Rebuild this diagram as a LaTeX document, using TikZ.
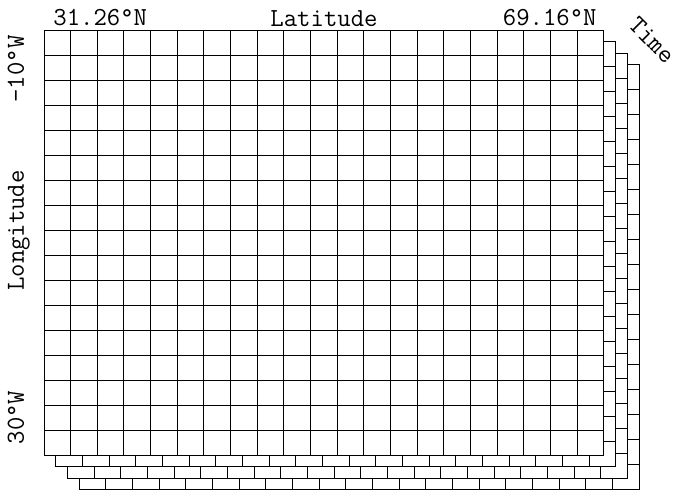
\documentclass[tikz,border=0pt]{standalone}
\usepackage{fontspec}
\tikzset{
  sheet/.style={fill=white, draw=black, line width=0.5pt},
  axislabel/.style={font=\ttfamily\fontsize{13}{15}\selectfont, inner sep=0pt},
}
\begin{document}
\begin{tikzpicture}[x=0.5pt,y=0.5pt]
  \useasboundingbox (0,0) rectangle (686,500);
  \foreach \t in {3,2,1,0}{
    \begin{scope}[shift={(44+11.7*\t,45-11.5*\t)}, x=13.333pt, y=12.5pt]
      \filldraw[sheet] (0,0) rectangle (21,17);
      \draw[sheet, step=1] (0,0) grid (21,17);
    \end{scope}
  }
  \node[axislabel, anchor=base west] (latmin) at (53,475) {31.26°N};
  \node[axislabel, anchor=base] (lattitle) at (324,474) {Latitude};
  \node[axislabel, anchor=base east] (latmax) at (597,475) {69.16°N};
  \node[axislabel, rotate=90, anchor=base] (lonmin) at (24,431) {-10°W};
  \node[axislabel, rotate=90, anchor=base] (lontitle) at (24,269.5) {Longitude};
  \node[axislabel, rotate=90, anchor=base] (lonmax) at (24,82.5) {30°W};
  \node[axislabel, rotate=-45] (timelbl) at (652,460) {Time};
\end{tikzpicture}
\end{document}
